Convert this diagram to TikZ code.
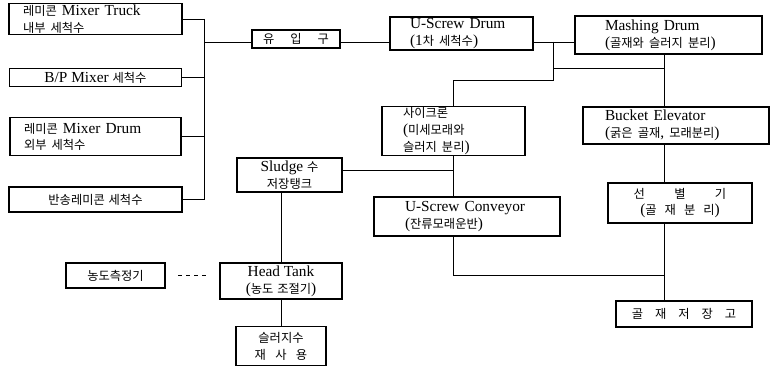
\documentclass[tikz,border=0pt]{standalone}
\usepackage{fontspec}
\setmainfont{Liberation Serif}
\newfontfamily\hangul{Noto Sans CJK KR}[Scale=0.8]
\newcommand{\ko}[1]{{\hangul #1}}
\usepackage{tikz}
\usetikzlibrary{positioning}

\begin{document}
\begin{tikzpicture}[
    x=0.75pt, y=-0.75pt,
    node distance=22.5pt,
    box/.style={rectangle, draw, line width=0.8pt, inner ysep=1pt, align=center, font=\fontsize{11.5}{12.5}\selectfont},
    lbox/.style={box, align=left},
    sz/.style 2 args={minimum width=#1*0.75pt, minimum height=#2*0.75pt},
    link/.style={line width=0.7pt},
    gauge/.style={link, dashed, shorten <=9.5pt, shorten >=9.5pt}
]
\useasboundingbox (0,0) rectangle (771,366);

% Wash water sources
\node[lbox, sz={173}{30}, text width=108.75pt, inner xsep=10.5pt] (truck) at (95.5,19)
     {\ko{레미콘} Mixer Truck\\\ko{내부} \ko{세척수}};
\node[box, sz={172}{18}, below=25pt of truck] (bp) {B/P Mixer \ko{세척수}};
\node[lbox, sz={171}{38}, text width=107.25pt, inner xsep=10.5pt, below=22.5pt of bp] (drum)
     {\ko{레미콘} Mixer Drum\\\ko{외부} \ko{세척수}};
\node[box, sz={173}{25}, below=22.5pt of drum] (back) {\ko{반송레미콘} \ko{세척수}};

% Washing line
\node[box, sz={88}{18}] (inlet) at (296,39)
     {\ko{유}\hspace{12pt}\ko{입}\hspace{12pt}\ko{구}};
\node[lbox, sz={143}{33}, text width=77.25pt, inner xsep=15pt] (usd) at (461.5,33.5)
     {U-Screw Drum\\(1\ko{차} \ko{세척수})};
\node[lbox, sz={187}{38}, text width=95.25pt, inner xsep=22.5pt] (mash) at (668.5,35)
     {Mashing Drum\\(\ko{골재와} \ko{슬러지} \ko{분리})};
\node[lbox, sz={143}{48}, text width=75.75pt, inner xsep=15.75pt] (cyc) at (453.5,131)
     {\ko{사이크론}\\(\ko{미세모래와}\\\ko{슬러지} \ko{분리})};
\node[lbox, sz={186}{37}, text width=106.5pt, inner xsep=16.5pt] (bucket) at (676,125.5)
     {Bucket Elevator\\(\ko{굵은} \ko{골재}, \ko{모래분리})};
\node[lbox, sz={186}{39}, text width=93pt, inner xsep=23.25pt] (conv) at (467,216.5)
     {U-Screw Conveyor\\(\ko{잔류모래운반})};
\node[box, sz={144}{40}] (sel) at (680,203)
     {\ko{선}\hspace{22pt}\ko{별}\hspace{22pt}\ko{기}\\(\ko{골}\hspace{6pt}\ko{재}\hspace{6pt}\ko{분}\hspace{6pt}\ko{리})};
\node[box, sz={136}{26}] (store) at (684,314)
     {\ko{골}\hspace{9pt}\ko{재}\hspace{9pt}\ko{저}\hspace{9pt}\ko{장}\hspace{9pt}\ko{고}};

% Sludge line
\node[box, sz={105}{34}] (sludge) at (289.5,175) {Sludge \ko{수}\\\ko{저장탱크}};
\node[box, sz={122}{36}] (head) at (281,281) {Head Tank\\(\ko{농도} \ko{조절기})};
\node[box, sz={99}{25}] (meter) at (115.5,275.5) {\ko{농도측정기}};
\node[box, sz={90}{39}, below=20pt of head] (reuse)
     {\ko{슬러지수}\\\ko{재}\hspace{7pt}\ko{사}\hspace{7pt}\ko{용}};

% Junctions
\coordinate (bus)   at (204,0);
\coordinate (flow)  at (0,42);
\coordinate (fork)  at (553,42);
\coordinate (tap)   at (553,80);
\coordinate (spine) at (664,68);
\coordinate (drain) at (0,170);
\coordinate (ret)   at (0,275);

% Lines
\foreach \src in {truck, bp, drum, back}
  \draw[link] (\src.east) -- (\src.east -| bus);
\draw[link] (truck.east -| bus) -- (back.east -| bus);
\draw[link] (bus |- flow) -- (inlet.west |- flow);
\draw[link] (inlet.east |- flow) -- (usd.west |- flow);
\draw[link] (usd.east |- flow) -- (mash.west |- flow);
\draw[link] (fork) -- (tap) -| (cyc.north);
\draw[link] (fork) |- (spine);
\draw[link] (mash.south -| spine) -- (bucket.north -| spine);
\draw[link] (bucket.south -| spine) -- (sel.north -| spine);
\draw[link] (sel.south -| spine) -- (store.north -| spine);
\draw[link] (cyc.south) -- (cyc.south |- conv.north);
\draw[link] (sludge.east |- drain) -- (cyc.south |- drain);
\draw[link] (cyc.south |- conv.south) |- (spine |- ret);
\draw[link] (head.north |- sludge.south) -- (head.north);
\draw[link] (head) -- (reuse);
\draw[gauge] (meter.east) -- (meter.east -| head.west);
\end{tikzpicture}
\end{document}
